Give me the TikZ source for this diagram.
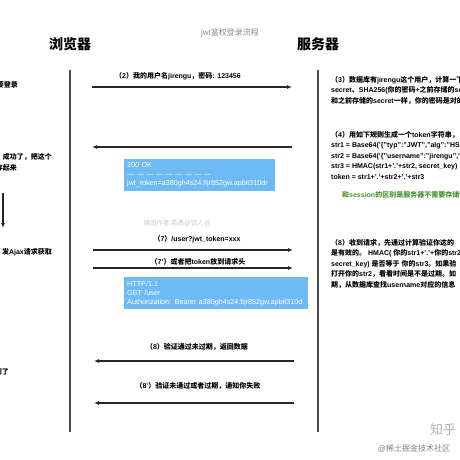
\documentclass[tikz,border=0pt]{standalone}
\usepackage{fontspec}
\setmainfont{Liberation Sans}
\newfontfamily\cjkfont{Noto Sans CJK SC}
\XeTeXinterchartokenstate=1
\newXeTeXintercharclass\cjkclass
\count255="3000
\loop\ifnum\count255<"A000 \XeTeXcharclass\count255=\cjkclass \advance\count255 by 1 \repeat
\count255="FF00
\loop\ifnum\count255<"FFF0 \XeTeXcharclass\count255=\cjkclass \advance\count255 by 1 \repeat
\XeTeXinterchartoks 0 \cjkclass={\cjkfont}
\XeTeXinterchartoks 4095 \cjkclass={\cjkfont}
\XeTeXinterchartoks \cjkclass 0={\rmfamily}
\XeTeXinterchartoks \cjkclass 4095={\rmfamily}
\usetikzlibrary{arrows.meta,positioning}
\definecolor{tokenblue}{RGB}{110,186,245}
\definecolor{lifegray}{RGB}{75,75,75}
\definecolor{notegreen}{RGB}{70,150,50}
\tikzset{
    actor/.style={font=\bfseries\fontsize{14}{16}\selectfont,inner sep=0pt},
    msg/.style={font=\bfseries\fontsize{7}{8}\selectfont,inner sep=0pt},
    note/.style={font=\bfseries\fontsize{7}{10.5}\selectfont,align=left,anchor=north west,inner sep=0pt},
    packet/.style={fill=tokenblue,text=white,font=\fontsize{7.2}{9}\selectfont,align=left,anchor=north west,inner sep=3pt,minimum height=32pt},
    arrow/.style={-{Latex[length=5pt,width=4pt]},line width=1.1pt,draw=black!85},
    life/.style={line width=1.4pt,draw=lifegray},
    faint/.style={inner sep=0pt}
}

\begin{document}
\begin{tikzpicture}[x=1pt,y=-1pt]
    \useasboundingbox (0,0) rectangle (460,460);
    \clip (0,0) rectangle (460,460);
    \node[faint,text=black!45,font=\fontsize{8}{9}\selectfont] (title) at (230,33) {jwt鉴权登录流程};
    \node[actor] (browser) at (70,44) {浏览器};
    \node[actor] (server) at (318,44) {服务器};
    \coordinate (bTop) at (70,70);
    \coordinate (bBot) at (70,432);
    \coordinate (sTop) at (318,70);
    \coordinate (sBot) at (318,432);
    \draw[life] (bTop) -- (bBot);
    \draw[life] (sTop) -- (sBot);

    % browser side, cut at the left edge
    \node[msg,anchor=east] (n1) at (18,85) {要登录};
    \node[msg,anchor=east] (n5) at (52,157) {成功了，把这个};
    \node[msg,anchor=east] (n5b) at (17,168) {存起来};
    \coordinate (dTop) at (3,193);
    \coordinate (dBot) at (3,228);
    \draw[arrow] (dTop) -- (dBot);
    \node[msg,anchor=east] (n6) at (52,252) {发Ajax请求获取};
    \node[msg,anchor=east] (n9) at (9,372) {到了};

    % messages
    \node[msg] (l2) at (178,76) {（2）我的用户名jirengu，密码: 123456};
    \coordinate (a2) at (92,87);
    \coordinate (b2) at (292,87);
    \draw[arrow] (a2) -- (b2);
    \coordinate (a4) at (292,147);
    \coordinate (b4) at (92,147);
    \draw[arrow] (a4) -- (b4);
    \node[packet,text width=145pt] (ok) at (124,159) {200 OK\\— — — — — — — — —\\jwt\_token=a380gh4s24.fijr852gw.apbit310dr};
    \node[faint,text=black!22,font=\fontsize{6.5}{8}\selectfont] (mark) at (177,223) {原图作者:若愚@饥人谷};
    \node[msg] (l7) at (197,239) {（7）/user?jwt\_token=xxx};
    \coordinate (a7) at (93,250);
    \coordinate (b7) at (293,250);
    \draw[arrow] (a7) -- (b7);
    \node[msg] (l7b) at (198,262) {（7'）或者把token放到请求头};
    \coordinate (a7b) at (93,268);
    \coordinate (b7b) at (293,268);
    \draw[arrow] (a7b) -- (b7b);
    \node[packet,text width=178pt] (req) at (124,277) {HTTP/1.1\\GET /user\\Authorization: Bearer a380gh4s24.fijr852gw.apbit310d};
    \node[msg] (l8) at (197,347) {（8）验证通过未过期，返回数据};
    \coordinate (a8) at (294,361);
    \coordinate (b8) at (94,361);
    \draw[arrow] (a8) -- (b8);
    \node[msg] (l8b) at (198,386) {（8'）验证未通过或者过期，通知你失败};
    \coordinate (a8b) at (294,403);
    \coordinate (b8b) at (94,403);
    \draw[arrow] (a8b) -- (b8b);

    % server side, cut at the right edge
    \node[note] (n3) at (331,76) {（3）数据库有jirengu这个用户，计算一下\\secret、SHA256(你的密码+之前存储的secret)\\和之前存储的secret一样，你的密码是对的};
    \node[note] (n4) at (331,131) {（4）用如下规则生成一个token字符串，\\str1 = Base64('\{"typ":"JWT","alg":"HS256"\}')\\str2 = Base64('\{"username":"jirengu",'\\str3 = HMAC(str1+'.'+str2, secret\_key)\\token = str1+'.'+str2+'.'+str3};
    \node[note,text=notegreen,anchor=west] (n4b) at (342,195) {和session的区别是服务器不需要存储任何};
    \node[note] (n8) at (331,239) {（8）收到请求，先通过计算验证你这的\\是有效的。 HMAC( 你的str1+'.'+你的str2\\secret\_key) 是否等于 你的str3。如果验\\打开你的str2，看看时间是不是过期。如\\期，从数据库查找username对应的信息};

    \node[faint,text=black!30,font=\fontsize{13}{14}\selectfont] (zhihu) at (443,430) {知乎};
    \node[faint,text=black!50,font=\fontsize{8}{9}\selectfont] (juejin) at (414,449) {@稀土掘金技术社区};
\end{tikzpicture}
\end{document}
